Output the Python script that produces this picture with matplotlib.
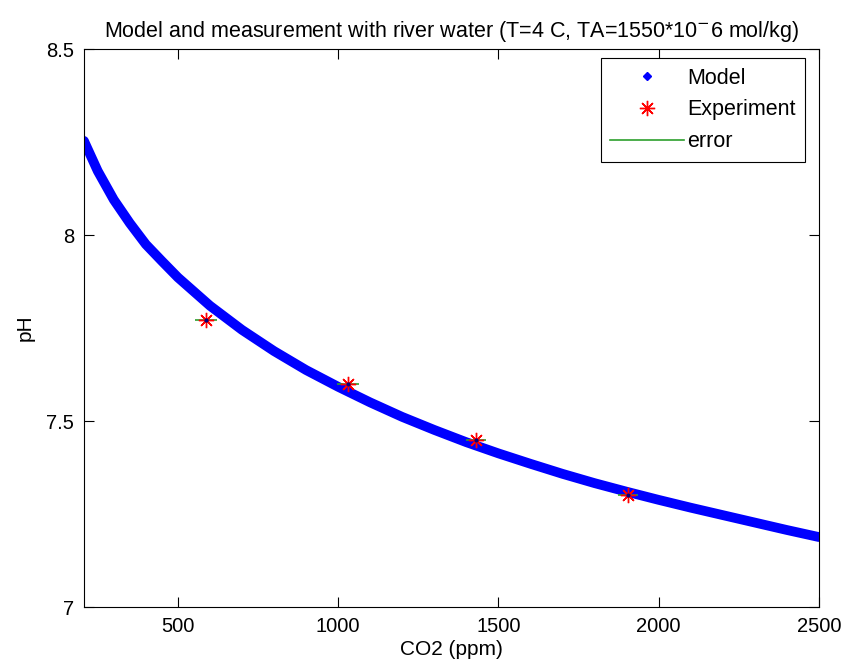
import matplotlib
matplotlib.use("Agg")
import matplotlib.pyplot as plt
from matplotlib.lines import Line2D

plt.rcParams['font.family'] = ['Liberation Sans', 'DejaVu Sans']

# model curve
co2_model = [207, 250, 300, 350, 400, 450, 500, 600, 700, 800, 900, 1000, 1100, 1200,
             1300, 1400, 1500, 1600, 1700, 1800, 1900, 2000, 2100, 2200, 2300, 2400, 2500]
ph_model = [8.253, 8.172, 8.095, 8.032, 7.975, 7.930, 7.886, 7.810, 7.745, 7.688, 7.637,
            7.592, 7.550, 7.511, 7.476, 7.443, 7.413, 7.385, 7.358, 7.333, 7.310, 7.288,
            7.267, 7.247, 7.227, 7.207, 7.188]

# measurements
co2_exp = [587, 1030, 1430, 1904]
ph_exp = [7.771, 7.599, 7.449, 7.301]
co2_err = [35, 35, 32, 32]

star = (8, 2, 0)

fig = plt.figure(figsize=(8.43, 6.68), dpi=100)
ax = fig.add_axes([0.0996, 0.0913, 0.8719, 0.8353])

ax.plot(co2_model, ph_model, color='blue', lw=7, solid_capstyle='round', zorder=2)
ax.errorbar(co2_exp, ph_exp, xerr=co2_err, fmt='none', ecolor='#2ca02c', elinewidth=1.2, zorder=3)
ax.plot(co2_exp, ph_exp, ls='none', marker=star, color='red', ms=11, mew=1.0, zorder=4)
ax.plot(co2_exp, ph_exp, ls='none', marker='.', color='#000080', ms=4, zorder=5)

ax.set_xlim(207, 2500)
ax.set_ylim(7, 8.5)
ax.set_xticks([500, 1000, 1500, 2000, 2500])
ax.set_yticks([7, 7.5, 8, 8.5])
ax.set_yticklabels(['7', '7.5', '8', '8.5'])
ax.tick_params(direction='in', top=True, right=True, length=7, labelsize=14.5, pad=7)
for s in ax.spines.values():
    s.set_linewidth(0.8)

ax.set_xlabel('CO2 (ppm)', fontsize=15, labelpad=3)
ax.set_ylabel('pH', fontsize=15, labelpad=8)
ax.set_title('Model and measurement with river water (T=4 C, TA=1550*10$^{-}$6 mol/kg)',
             fontsize=15.5, pad=9)

handles = [
    Line2D([], [], ls='none', marker='D', color='blue', ms=4.5),
    Line2D([], [], ls='none', marker=star, color='red', ms=11, mew=1.0),
    Line2D([], [], color='#2ca02c', lw=1.2),
]
leg = ax.legend(handles, ['Model', 'Experiment', 'error'], loc='upper right',
                bbox_to_anchor=(0.981, 0.984), borderaxespad=0, fontsize=15.5,
                fancybox=False, edgecolor='black', framealpha=1,
                handlelength=3.4, handletextpad=0.15, labelspacing=0.5, borderpad=0.45)
leg.get_frame().set_linewidth(0.8)

fig.savefig('out.png', dpi=100)
